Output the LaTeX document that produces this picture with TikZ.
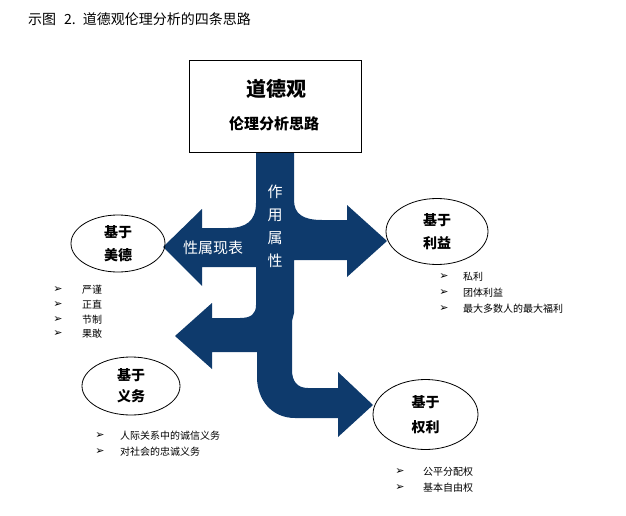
\documentclass[tikz,border=0pt]{standalone}
\usepackage{fontspec}
\setmainfont{Noto Sans CJK SC}
\newfontfamily\dv{DejaVu Sans}
\usetikzlibrary{shapes.geometric}
\definecolor{navy}{RGB}{14,58,108}
\tikzset{
  oval/.style={ellipse, draw=black, line width=0.8pt, align=center,
    font=\bfseries\fontsize{14}{23}\selectfont, inner sep=0pt},
  item/.style={anchor=west, font=\fontsize{10}{10}\selectfont, inner sep=0pt},
  bul/.style={anchor=center, font=\dv\bfseries\fontsize{11}{10}\selectfont, inner sep=0pt},
  wlabel/.style={text=white, font=\fontsize{15}{15}\selectfont, inner sep=0pt}
}
\begin{document}
\begin{tikzpicture}[x=1pt,y=-1pt]
\useasboundingbox (0,0) rectangle (626,516);
\node[anchor=west, inner sep=0pt, font=\fontsize{14}{14}\selectfont] (title) at (28,19) {示图\hspace{8pt}2.\hspace{7pt}道德观伦理分析的四条思路};
% big arrow shape
\fill[navy] (256,151) -- (256,203)
  .. controls (256,221) and (246,228) .. (228,228)
  -- (202,228) -- (202,209) -- (163,247) -- (202,286) -- (202,267) -- (256,267)
  -- (256,305)
  .. controls (256,314) and (251,318) .. (240,318)
  -- (212,318) -- (212,303) -- (175,336) -- (212,369) -- (212,352) -- (257,352)
  -- (257,377)
  .. controls (257,399) and (271,418) .. (295,418)
  -- (338,418) -- (338,437) -- (373,405) -- (338,372) -- (338,388)
  -- (308,388)
  .. controls (297,388) and (292,381) .. (292,370)
  -- (292,321) -- (294,313)
  -- (294,260)
  -- (347,260) -- (347,277) -- (387,241) -- (347,205) -- (347,220)
  -- (322,220)
  .. controls (303,220) and (294,214) .. (294,200)
  -- (294,151) -- cycle;
% top box
\node[draw=black, line width=0.8pt, minimum width=172pt, minimum height=92pt, inner sep=0pt, fill=white] (box) at (275.5,106) {};
\node[font=\bfseries\fontsize{20}{20}\selectfont, inner sep=0pt] (boxt1) at (276,89) {道德观};
\node[font=\bfseries\fontsize{15}{15}\selectfont, inner sep=0pt] (boxt2) at (274,124) {伦理分析思路};
% labels on the arrows
\node[wlabel] (lbl) at (213,248) {性属现表};
\node[wlabel, align=center, font=\fontsize{15}{23}\selectfont] (vlbl) at (275,226) {作\\用\\属\\性};
% ovals
\node[oval, minimum width=94pt, minimum height=57pt] (virtue) at (118,243.5) {基于\\美德};
\node[oval, minimum width=102pt, minimum height=66pt] (interest) at (437,231.5) {基于\\利益};
\node[oval, minimum width=98pt, minimum height=58pt, font=\bfseries\fontsize{14}{21}\selectfont] (duty) at (131,386) {基于\\义务};
\node[oval, minimum width=105pt, minimum height=70pt, font=\bfseries\fontsize{14}{25}\selectfont] (right) at (425.5,414.5) {基于\\权利};
% lists
\node[bul] (b1) at (58,290) {➢}; \node[item] (t1) at (82,290) {严谨};
\node[bul] (b2) at (58,305) {➢}; \node[item] (t2) at (82,305) {正直};
\node[bul] (b3) at (58,320) {➢}; \node[item] (t3) at (82,320) {节制};
\node[bul] (b4) at (58,334) {➢}; \node[item] (t4) at (82,334) {果敢};
\node[bul] (b5) at (444,277) {➢}; \node[item] (t5) at (463,277) {私利};
\node[bul] (b6) at (444,293) {➢}; \node[item] (t6) at (463,293) {团体利益};
\node[bul] (b7) at (444,309) {➢}; \node[item] (t7) at (463,309) {最大多数人的最大福利};
\node[bul] (b8) at (100,436) {➢}; \node[item] (t8) at (120,436) {人际关系中的诚信义务};
\node[bul] (b9) at (100,452) {➢}; \node[item] (t9) at (120,452) {对社会的忠诚义务};
\node[bul] (b10) at (400,472) {➢}; \node[item] (t10) at (423,472) {公平分配权};
\node[bul] (b11) at (400,488) {➢}; \node[item] (t11) at (423,488) {基本自由权};
\end{tikzpicture}
\end{document}
